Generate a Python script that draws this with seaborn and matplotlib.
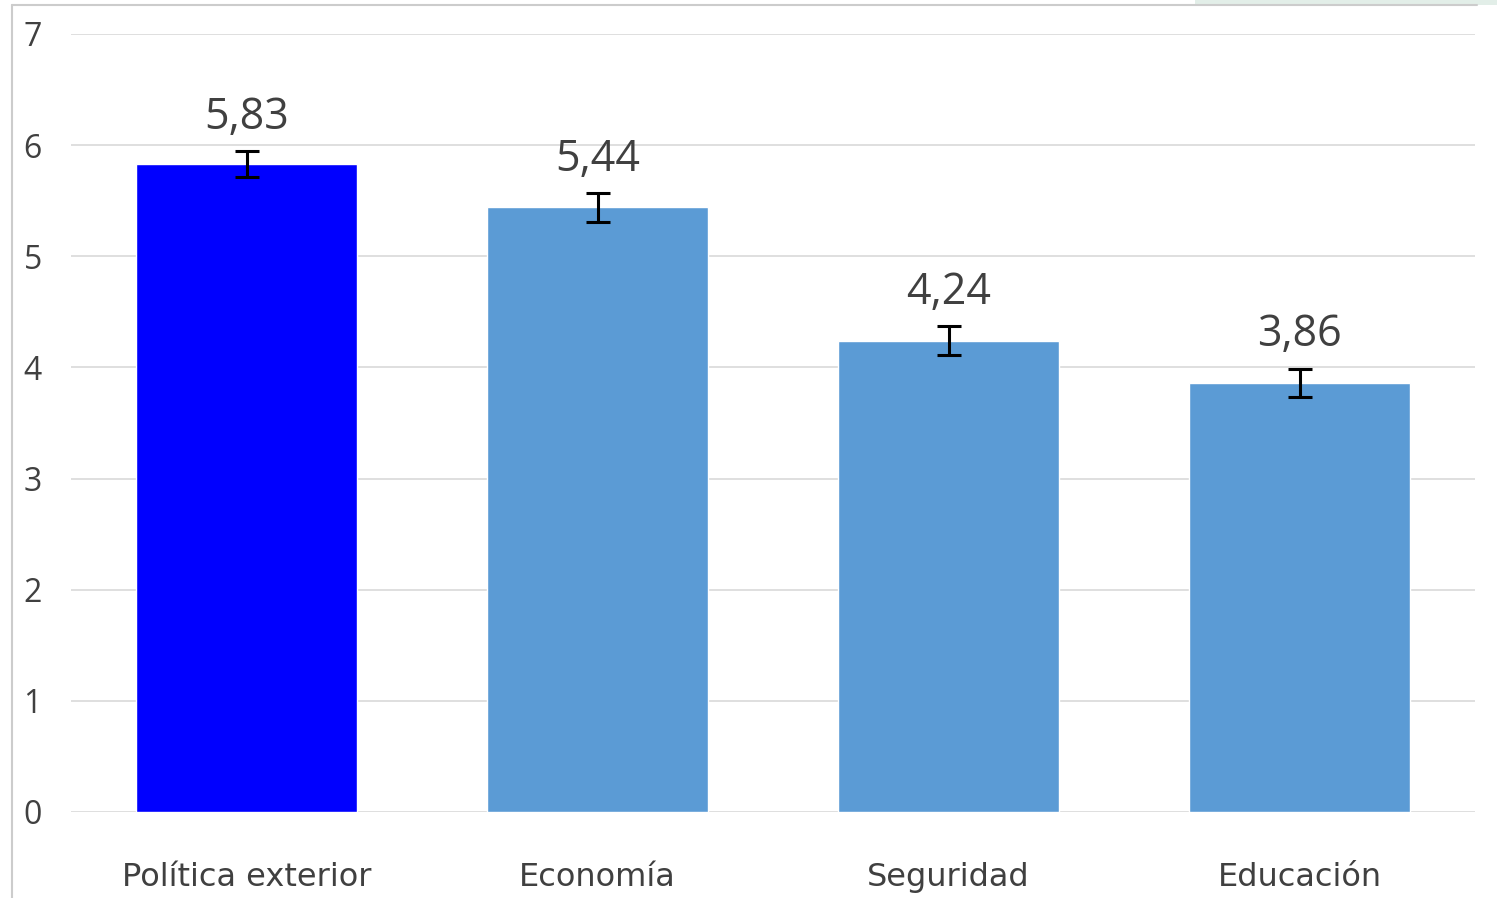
import matplotlib
matplotlib.use("Agg")
import matplotlib.pyplot as plt
from matplotlib.patches import Rectangle
from matplotlib.lines import Line2D
import seaborn as sns
import pandas as pd

categories = ["Política exterior", "Economía", "Seguridad", "Educación"]
values = [5.83, 5.44, 4.24, 3.86]
errors = [0.12, 0.13, 0.13, 0.13]
labels = ["5,83", "5,44", "4,24", "3,86"]
colors = ["#0000FF", "#5B9BD5", "#5B9BD5", "#5B9BD5"]

df = pd.DataFrame({"tema": categories, "media": values})

sns.set_theme(style="white")
plt.rcParams["font.family"] = ["Open Sans", "DejaVu Sans"]

fig = plt.figure(figsize=(14.97, 8.98), dpi=100)
W, H = 1497, 898
ax = fig.add_axes([71 / W, 1 - 812 / H, (1475 - 71) / W, (812 - 34) / H])

sns.barplot(data=df, x="tema", y="media", hue="tema", palette=colors,
            errorbar=None, width=0.627, legend=False, ax=ax, saturation=1)
ax.errorbar(range(len(values)), values, yerr=errors, fmt="none",
            ecolor="black", elinewidth=2.2, capsize=8.5, capthick=2.2, zorder=5)

for i, (v, e, t) in enumerate(zip(values, errors, labels)):
    ax.annotate(t, (i, v + e), xytext=(0, 8), textcoords="offset points",
                ha="center", va="bottom", fontsize=31, color="#404040")

ax.set_ylim(0, 7)
ax.set_xlim(-0.5, 3.5)
ax.set_yticks(range(8))
ax.yaxis.grid(True, color="#d9d9d9", linewidth=1.2)
ax.set_axisbelow(True)
for s in ax.spines.values():
    s.set_visible(False)
ax.set_xlabel("")
ax.set_ylabel("")
ax.tick_params(axis="y", labelsize=23, labelcolor="#404040", length=0, pad=21)
ax.tick_params(axis="x", labelsize=23, labelcolor="#404040", length=0, pad=36)
for lab in ax.get_xticklabels():
    lab.set_family("DejaVu Sans")

# outer frame lines and corner decoration
fig.add_artist(Line2D([12 / W, 12 / W], [0, 1 - 5 / H], color="#cccccc", lw=1.5))
fig.add_artist(Line2D([12 / W, 1 - 20 / W], [1 - 5 / H, 1 - 5 / H], color="#cccccc", lw=1.5))
fig.add_artist(Rectangle((1195 / W, 1 - 5 / H), 302 / W, 5 / H, color="#e2eee8", lw=0))

fig.savefig("out.png", dpi=100)
